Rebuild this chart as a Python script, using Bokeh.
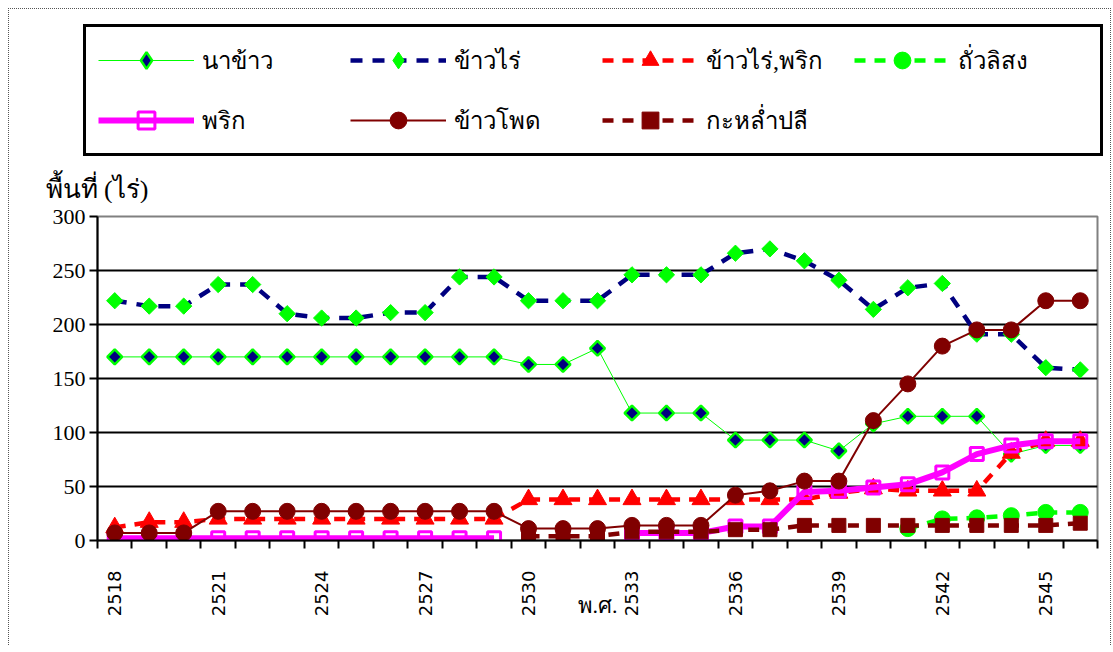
import math
from bokeh.plotting import figure
from bokeh.layouts import column
from bokeh.models import Range1d, FixedTicker, Legend, LegendItem, Label
from bokeh.embed import file_html
from bokeh.resources import INLINE

nan = float("nan")

years = [2518, 2519, 2520, 2521, 2522, 2523, 2524, 2525, 2526, 2527,
         2528, 2529, 2530, 2531, 2532, 2533, 2534, 2535, 2536, 2537,
         2538, 2539, 2540, 2541, 2542, 2543, 2544, 2545, 2546]

na_khao = [170, 170, 170, 170, 170, 170, 170, 170, 170, 170,
           170, 170, 163, 163, 178, 118, 118, 118, 93, 93,
           93, 83, 108, 115, 115, 115, 80, 88, 88]

khao_rai = [222, 217, 217, 237, 237, 210, 206, 206, 211, 211,
            244, 244, 222, 222, 222, 246, 246, 246, 266, 270,
            259, 241, 214, 234, 238, 191, 191, 160, 158]

khao_rai_prik = [12, 17, 17, 20, 20, 20, 20, 20, 20, 20,
                 20, 20, 38, 38, 38, 38, 38, 38, 38, 38,
                 38, 44, 48, 46, 46, 46, 81, 92, 92]

thua = [nan, nan, nan, nan, nan, nan, nan, nan, nan, nan,
        nan, nan, nan, nan, nan, nan, nan, nan, nan, nan,
        nan, nan, nan, 11, 20, 21, 23, 26, 26]

prik = [2, 2, 2, 2, 2, 2, 2, 2, 2, 2,
        2, 2, nan, nan, nan, 7, 7, 7, 13, 13,
        45, 46, 49, 52, 63, 80, 88, 92, 92]

khao_phot = [7, 7, 7, 27, 27, 27, 27, 27, 27, 27,
             27, 27, 11, 11, 11, 14, 14, 14, 42, 46,
             55, 55, 111, 145, 180, 195, 195, 222, 222]

kalam = [nan, nan, nan, nan, nan, nan, nan, nan, nan, nan,
         nan, nan, 4, 4, 4, 8, 8, 8, 10, 10,
         14, 14, 14, 14, 14, 14, 14, 14, 16]

labels = ["นาข้าว", "ข้าวไร่", "ข้าวไร่,พริก", "ถั่วลิสง", "พริก", "ข้าวโพด", "กะหล่ำปลี"]
y_title = "พื้นที่ (ไร่)"
x_title = "พ.ศ."
y_ticks = [0, 50, 100, 150, 200, 250, 300]
x_label_idx = [0, 3, 6, 9, 12, 15, 18, 21, 24, 27]

xs = list(range(len(years)))

styles_list = [
    (dict(line_color="#00FF00", line_width=1),
     dict(marker="square", angle=math.pi / 4, size=10.5, fill_color="#000080",
          line_color="#00FF00", line_width=2.5)),
    (dict(line_color="#000080", line_width=4.5, line_dash="12 10"),
     dict(marker="square", angle=math.pi / 4, size=11.5, fill_color="#00FF00",
          line_color="#00FF00", line_width=1)),
    (dict(line_color="#FF0000", line_width=4.5, line_dash="11 9"),
     dict(marker="triangle", size=18, fill_color="#FF0000", line_color="#FF0000")),
    (dict(line_color="#00FF00", line_width=4.5, line_dash="11 9"),
     dict(marker="circle", size=16, fill_color="#00FF00", line_color="#00FF00")),
    (dict(line_color="#FF00FF", line_width=6),
     dict(marker="square", size=13, fill_color=None, line_color="#FF00FF", line_width=3)),
    (dict(line_color="#800000", line_width=2),
     dict(marker="circle", size=16, fill_color="#800000", line_color="#800000")),
    (dict(line_color="#800000", line_width=4.5, line_dash="11 9"),
     dict(marker="square", size=14, fill_color="#800000", line_color="#800000")),
]
series = [na_khao, khao_rai, khao_rai_prik, thua, prik, khao_phot, kalam]

W = 1101
H1 = 194
H2 = 442

# ---------- top strip: legend + y-axis title ----------
top = figure(width=W, height=H1, output_backend="svg", toolbar_location=None,
             title=None, x_axis_type=None, y_axis_type=None,
             x_range=Range1d(0, W), y_range=Range1d(0, H1),
             min_border_left=0, min_border_right=0, min_border_top=0,
             min_border_bottom=0)
top.grid.visible = False
top.outline_line_color = None
top.background_fill_color = "white"
top.border_fill_color = "white"
try:
    top.frame_align = False
except AttributeError:
    pass

items = []
for lab, (lkw, mkw) in zip(labels, styles_list):
    mk = dict(mkw)
    if mk.get("angle"):
        mk.pop("angle")
        mk["marker"] = "diamond"
    lr = top.line([nan], [nan], **lkw)
    sr = top.scatter([nan], [nan], **mk)
    items.append(LegendItem(label=lab, renderers=[lr, sr]))

legend = Legend(items=items, orientation="horizontal", ncols=4,
                location=(74, 47))
legend.border_line_color = "black"
legend.border_line_alpha = 1
legend.border_line_width = 3
legend.background_fill_color = "white"
legend.background_fill_alpha = 1
legend.padding = 12
legend.margin = 0
legend.spacing = 18
legend.glyph_width = 96
legend.glyph_height = 42
legend.label_standoff = 8
legend.label_width = 130
legend.label_height = 42
legend.label_text_font = "Liberation Serif"
legend.label_text_font_size = "24px"
legend.label_text_color = "black"
legend.label_text_baseline = "middle"
top.add_layout(legend, "center")

top.add_layout(Label(x=36, y=0, text=y_title,
                     text_font="Liberation Serif", text_font_size="26px",
                     text_color="black", text_baseline="bottom",
                     text_align="left"))

# ---------- main chart ----------
p = figure(width=W, height=H2, output_backend="svg", toolbar_location=None,
           title=None,
           x_range=Range1d(-0.5, len(years) - 0.5), y_range=Range1d(0, 300),
           min_border_left=88, min_border_right=13, min_border_top=13,
           min_border_bottom=105)
p.background_fill_color = "white"
p.border_fill_color = "white"
p.outline_line_color = "#808080"
p.outline_line_width = 2
try:
    p.frame_align = False
except AttributeError:
    pass

p.yaxis.ticker = FixedTicker(ticks=y_ticks)
p.yaxis.axis_line_color = "black"
p.yaxis.axis_line_width = 2
p.yaxis.major_tick_line_color = "black"
p.yaxis.major_tick_line_width = 2
p.yaxis.major_tick_out = 8
p.yaxis.major_tick_in = 0
p.yaxis.minor_tick_line_color = None
p.yaxis.major_label_text_font = "Liberation Serif"
p.yaxis.major_label_text_font_size = "22px"
p.yaxis.major_label_text_color = "black"
p.yaxis.major_label_standoff = 4

p.ygrid.ticker = FixedTicker(ticks=y_ticks)
p.ygrid.grid_line_color = "black"
p.ygrid.grid_line_width = 2
p.xgrid.visible = False

p.xaxis.ticker = FixedTicker(ticks=x_label_idx,
                             minor_ticks=[i - 0.5 for i in range(len(years) + 1)])
p.xaxis.major_label_overrides = {i: str(years[i]) for i in x_label_idx}
p.xaxis.major_label_orientation = math.pi / 2
p.xaxis.major_tick_out = 0
p.xaxis.major_tick_in = 0
p.xaxis.minor_tick_out = 8
p.xaxis.minor_tick_in = 0
p.xaxis.minor_tick_line_color = "black"
p.xaxis.minor_tick_line_width = 2
p.xaxis.axis_line_color = "black"
p.xaxis.axis_line_width = 2
p.xaxis.major_label_text_font = "DejaVu Sans"
p.xaxis.major_label_text_font_size = "18px"
p.xaxis.major_label_text_color = "black"
p.xaxis.major_label_standoff = 22
p.xaxis.axis_label = x_title
p.xaxis.axis_label_text_font = "Liberation Serif"
p.xaxis.axis_label_text_font_size = "22px"
p.xaxis.axis_label_text_font_style = "normal"
p.xaxis.axis_label_text_color = "black"
p.xaxis.axis_label_standoff = -26

for vals, (lkw, mkw) in zip(series, styles_list):
    p.line(xs, vals, **lkw)
    p.scatter(xs, vals, **mkw)

layout = column(top, p, spacing=0)
layout.styles = {"margin-left": "8px", "margin-top": "8px",
                 "border-top": "1px dotted #555", "border-left": "1px dotted #555",
                 "border-right": "1px dotted #555"}

open("out.html", "w").write(file_html(layout, INLINE))
